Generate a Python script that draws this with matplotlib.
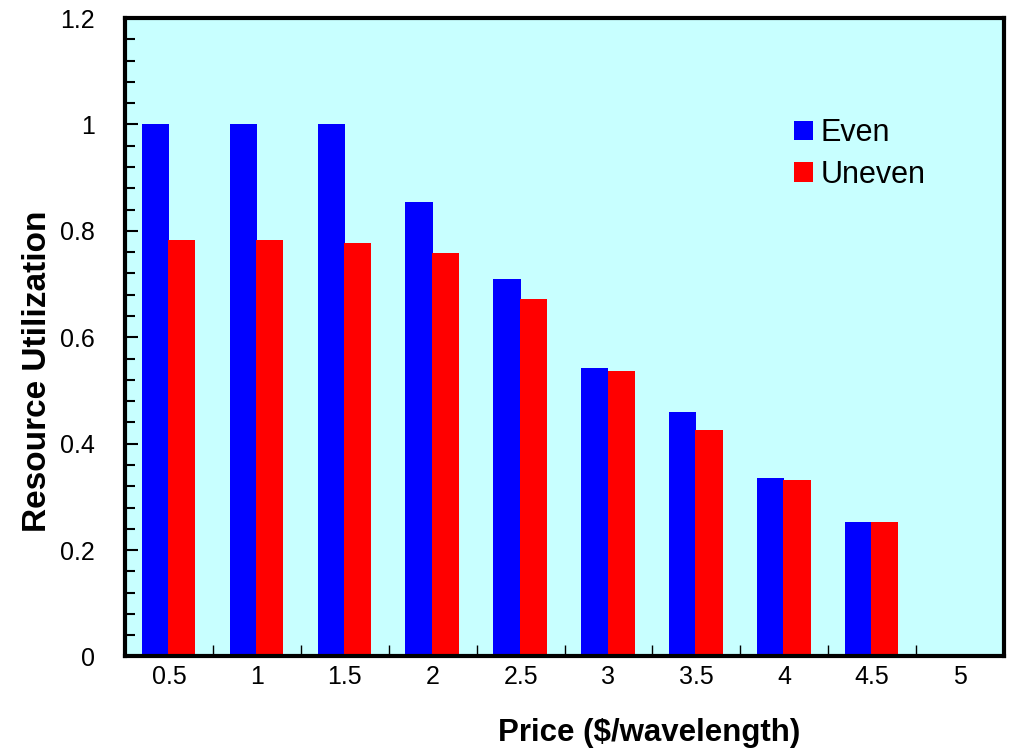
import numpy as np
import matplotlib
matplotlib.use("Agg")
import matplotlib.pyplot as plt
from matplotlib.ticker import MultipleLocator, FixedLocator


# ============================================
# Data
# ============================================

prices = ["0.5", "1", "1.5", "2", "2.5", "3", "3.5", "4", "4.5", "5"]
even = [1.0, 1.0, 1.0, 0.855, 0.71, 0.543, 0.46, 0.335, 0.253, 0.0]
uneven = [0.783, 0.783, 0.778, 0.758, 0.671, 0.537, 0.425, 0.331, 0.252, 0.0]


# ============================================
# Plot
# ============================================

plt.rcParams["font.family"] = ["Liberation Sans", "DejaVu Sans"]

fig = plt.figure(figsize=(10.09, 7.52), dpi=100)
ax = fig.add_axes([0.124, 0.127, 0.871, 0.849])

x = np.arange(len(prices)) + 0.5
width = 0.31

ax.bar(x - 0.155, even, width, color="#0000ff", label="Even", zorder=2)
ax.bar(x + 0.145, uneven, width, color="#ff0000", label="Uneven", zorder=2)

ax.set_facecolor("#c8ffff")
ax.set_xlim(0, len(prices))
ax.set_ylim(0, 1.2)

# y axis: labelled ticks every 0.2, small ticks every 0.04
ax.yaxis.set_minor_locator(MultipleLocator(0.04))
ax.set_yticks([0, 0.2, 0.4, 0.6, 0.8, 1.0, 1.2])
ax.set_yticklabels(["0", "0.2", "0.4", "0.6", "0.8", "1", "1.2"])

# x axis: labels at group centres, tick marks between groups
ax.set_xticks(x)
ax.set_xticklabels(prices)
ax.xaxis.set_minor_locator(FixedLocator(np.arange(1, len(prices))))

ax.tick_params(axis="x", which="major", length=0, pad=6, labelsize=18)
ax.tick_params(axis="x", which="minor", direction="in", length=8, width=1)
ax.tick_params(axis="y", which="major", direction="in", length=9, width=1.5,
               pad=22, labelsize=18)
ax.tick_params(axis="y", which="minor", direction="in", length=7, width=1.5)

for spine in ax.spines.values():
    spine.set_linewidth(3)
    spine.set_zorder(3)

ax.set_xlabel("Price ($/wavelength)", fontsize=22.5, fontweight="bold")
ax.set_ylabel("Resource Utilization", fontsize=24, fontweight="bold")
ax.xaxis.set_label_coords(0.596, -0.097)
ax.yaxis.set_label_coords(-0.082, 0.446)

ax.legend(loc="upper left", bbox_to_anchor=(0.744, 0.867), frameon=False,
          fontsize=22, handlelength=0.6, handleheight=0.6, handletextpad=0.25,
          labelspacing=0.38, borderpad=0)

fig.savefig("out.png", dpi=100)
plt.close(fig)
